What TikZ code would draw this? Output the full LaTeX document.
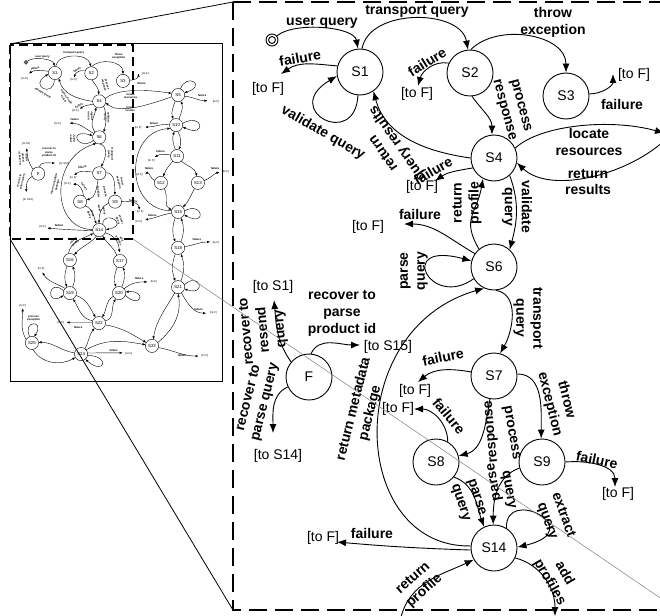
\documentclass[tikz,border=0pt]{standalone}
\usepackage{fontspec}
\setmainfont{Liberation Sans}
\usetikzlibrary{arrows.meta}
\def\LW{0.9pt}\def\AL{9pt}\def\AW{7pt}
\tikzset{
  st/.style={circle,draw,line width=\LW,minimum size=46pt,inner sep=0pt,font=\fontsize{14}{16}\selectfont},
  ini/.style={circle,draw,line width=\LW,inner sep=0pt},
  lbl/.style={font=\bfseries\fontsize{14}{17}\selectfont,align=center,inner sep=0pt},
  tof/.style={font=\fontsize{14}{16}\selectfont,inner sep=0pt},
  edg/.style={draw,line width=\LW,-{Latex[length=\AL,width=\AW]}},
}
\newcommand\mycore[1]{%
  \node[ini,minimum size=12pt] (#1init) at (272,40) {};
  \node[ini,minimum size=7pt] (#1initb) at (272,40) {};
  \node[st] (#1S1) at (360,72) {S1};
  \node[st] (#1S2) at (470,73) {S2};
  \node[st] (#1S3) at (566,96) {S3};
  \node[st] (#1S4) at (494,158) {S4};
  \node[st] (#1S6) at (494,267) {S6};
  \node[st] (#1S7) at (494,376) {S7};
  \node[st] (#1S8) at (436,462) {S8};
  \node[st] (#1S9) at (542,462) {S9};
  \node[st] (#1S14) at (494,548) {S14};
  \node[st] (#1F) at (309,377) {F};
  \coordinate (#1a1) at (281,74);
  \coordinate (#1a2) at (418,86);
  \coordinate (#1a3) at (613,74);
  \coordinate (#1a4) at (435,181);
  \coordinate (#1a6) at (404,224);
  \coordinate (#1a7) at (418,382);
  \coordinate (#1a8) at (414,409);
  \coordinate (#1a9) at (615,487);
  \coordinate (#1a14) at (337,542);
  \coordinate (#1aS1) at (274,300);
  \coordinate (#1aS15) at (360,345);
  \coordinate (#1aS14) at (273,433);
  \coordinate (#1aadd) at (555,616);
  \coordinate (#1arp) at (401,617);
  \node[tof] (#1t1) at (268,89) {[to F]};
  \node[tof] (#1t2) at (417,94) {[to F]};
  \node[tof] (#1t3) at (634,75) {[to F]};
  \node[tof] (#1t4) at (422,187) {[to F]};
  \node[tof] (#1t6) at (368,227) {[to F]};
  \node[tof] (#1t7) at (415,391) {[to F]};
  \node[tof] (#1t8) at (398,409) {[to F]};
  \node[tof] (#1t9) at (618,494) {[to F]};
  \node[tof] (#1t14) at (323,538) {[to F]};
  \node[tof] (#1tS1) at (273,287) {[to S1]};
  \node[tof] (#1tS15) at (388,347) {[to S15]};
  \node[tof] (#1tS14) at (278,456) {[to S14]};
  \node[lbl] (#1L1) at (322,23) {user query};
  \node[lbl] (#1L2) at (417,11) {transport query};
  \node[lbl,rotate=10] (#1L3) at (300,58) {failure};
  \node[lbl,rotate=-30] (#1L4) at (323,133) {validate query};
  \node[lbl,rotate=125] (#1L5) at (391,148) {return\\query results};
  \node[lbl,rotate=30] (#1L6) at (433,171) {failure};
  \node[lbl,rotate=32] (#1L7) at (427,62) {failure};
  \node[lbl] (#1L8) at (553,22) {throw\\exception};
  \node[lbl] (#1L9) at (622,104) {failure};
  \node[lbl,rotate=-75] (#1L10) at (512,108) {process\\response};
  \node[lbl] (#1L11) at (589,142) {locate\\resources};
  \node[lbl] (#1L12) at (588,182) {return\\results};
  \node[lbl,rotate=-90] (#1L13) at (517,207) {validate\\query};
  \node[lbl,rotate=90] (#1L14) at (467,203) {return\\profile};
  \node[lbl] (#1L15) at (420,214) {failure};
  \node[lbl,rotate=90] (#1L16) at (414,271) {parse\\query};
  \node[lbl,rotate=-90] (#1L17) at (528,318) {transport\\query};
  \node[lbl,rotate=76] (#1L18) at (362,411) {return metadata\\package};
  \node[lbl,rotate=12] (#1L19) at (443,357) {failure};
  \node[lbl,rotate=-50] (#1L20) at (449,416) {failure};
  \node[lbl,rotate=95] (#1L21a) at (492,432) {response};
  \node[lbl,rotate=-80] (#1L21b) at (511,433) {process};
  \node[lbl,rotate=-72] (#1L22) at (468,500) {parse\\query};
  \node[lbl,rotate=100] (#1L23a) at (495,482) {parse};
  \node[lbl,rotate=-80] (#1L23b) at (508,490) {query};
  \node[lbl,rotate=-76] (#1L24) at (558,402) {throw\\exception};
  \node[lbl,rotate=-12] (#1L25) at (597,460) {failure};
  \node[lbl,rotate=-70] (#1L26) at (555,518) {extract\\query};
  \node[lbl] (#1L27) at (372,533) {failure};
  \node[lbl,rotate=-60] (#1L28) at (557,578) {add\\profiles};
  \node[lbl,rotate=42] (#1L29) at (419,585) {return\\profile};
  \node[lbl,rotate=95] (#1L30) at (264,330) {recover to\\resend\\query};
  \node[lbl] (#1L31) at (342,313) {recover to\\parse\\product id};
  \node[lbl,rotate=76] (#1L32) at (257,400) {recover to\\parse query};
  \draw[edg] (#1init) to[out=40,in=100,looseness=0.7] (#1S1.95);
  \draw[edg] (#1S1.85) to[out=80,in=100] (#1S2.95);
  \draw[edg] (#1S1.165) to[out=175,in=35] (#1a1);
  \draw[edg] (#1S1.-95) .. controls (355,150) and (280,110) .. (#1S1.190);
  \draw[edg] (#1S4.180) to[out=172,in=-75] (#1S1.-55);
  \draw[edg] (#1S4.205) to[out=190,in=35] (#1a4);
  \draw[edg] (#1S2.155) to[out=170,in=75] (#1a2);
  \draw[edg] (#1S2.88) to[out=45,in=90] (#1S3.90);
  \draw[edg] (#1S3.5) to[out=0,in=-90] (#1a3);
  \draw[edg] (#1S2.-85) to[out=-55,in=90] (#1S4.95);
  \draw[edg] (#1S4.25) .. controls (540,125) and (610,118) .. (#1Xloc);
  \draw[edg] (#1Xret) .. controls (625,176) and (550,194) .. (#1S4.-12);
  \draw[edg] (#1S4.-48) to[out=-70,in=75] (#1S6.48);
  \draw[edg] (#1S6.130) to[out=120,in=-100,looseness=1.3] (#1S4.-118);
  \draw[edg] (#1S6.145) to[out=150,in=0] (#1a6);
  \draw[edg] (#1S6.210) .. controls (430,310) and (395,240) .. (#1S6.165);
  \draw[edg] (#1S6.-85) to[out=-10,in=60] (#1S7.75);
  \draw[edg] (#1S14.175) .. controls (350,548) and (340,330) .. (#1S6.-115);
  \draw[edg] (#1S7.170) to[out=170,in=40] (#1a7);
  \draw[edg] (#1S8.60) to[out=90,in=0] (#1a8);
  \draw[edg] (#1S7.-100) to[out=-100,in=15] (#1S8.15);
  \draw[edg] (#1S8.-40) to[out=-20,in=110] (#1S14.115);
  \draw[edg] (#1S9.195) to[out=200,in=90] (#1S14.92);
  \draw[edg] (#1S7.5) to[out=0,in=90] (#1S9.92);
  \draw[edg] (#1S9.0) to[out=5,in=90] (#1a9);
  \draw[edg] (#1S14.58) .. controls (505,485) and (590,530) .. (#1S14.2);
  \draw[edg] (#1S14.185) to[out=178,in=-5] (#1a14);
  \draw[edg] (#1S14.-25) to[out=-15,in=90] (#1aadd);
  \draw[edg] (#1arp) to[out=75,in=205] (#1S14.-150);
  \draw[edg] (#1F.140) to[out=125,in=-85] (#1aS1);
  \draw[edg] (#1F.85) to[out=65,in=180] (#1aS15);
  \draw[edg] (#1F.205) to[out=205,in=90] (#1aS14);
}
\newcommand\myxnodes{%
  \node[st] (tS5) at (733,139) {S5};
  \node[st] (tS10) at (727,230) {S10};
  \node[st] (tS11) at (730,324) {S11};
  \node[st] (tS12) at (681,405) {S12};
  \node[st] (tS13) at (793,405) {S13};
  \node[st] (tS15) at (733,493) {S15};
  \node[st] (tS16) at (405,639) {S16};
  \node[st] (tS17) at (557,642) {S17};
  \node[st] (tS18) at (733,602) {S18};
  \node[st] (tS19) at (405,739) {S19};
  \node[st] (tS20) at (554,739) {S20};
  \node[st] (tS21) at (733,721) {S21};
  \node[st] (tS22) at (493,830) {S22};
  \node[st] (tS23) at (654,899) {S23};
  \node[st] (tS24) at (439,924) {S24};
  \node[st] (tS25) at (290,890) {S25};
}
\newcommand\myxedges{%
  \draw[edg] (tS5.70) .. controls (760,70) and (820,110) .. (tS5.20);
  \coordinate (tf5) at (822,156);
  \draw[edg] (tS5.-10) to[out=-5,in=180] (tf5);
  \node[lbl] (tl5) at (806,140) {failure};
  \node[tof] (tt5) at (848,160) {[to F]};
  \draw[edg] (tS5.-115) to[out=-110,in=110] (tS10.115);
  \draw[edg] (tS10.65) to[out=70,in=-70] (tS5.-65);
  \draw[edg] (tS10.15) .. controls (810,190) and (820,270) .. (tS10.-15);
  \coordinate (tf10) at (633,236);
  \draw[edg] (tS10.175) to[out=175,in=0] (tf10);
  \node[lbl] (tl10) at (660,224) {failure};
  \node[tof] (tt10) at (612,238) {[to F]};
  \draw[edg] (tS10.-75) to[out=-60,in=70] (tS11.75);
  \draw[edg] (tS11.105) to[out=110,in=-110] (tS10.-105);
  \coordinate (tf11) at (662,327);
  \draw[edg] (tS11.170) to[out=170,in=30] (tf11);
  \node[lbl] (tl11) at (680,310) {failure};
  \node[tof] (tt11) at (652,338) {[to F]};
  \draw[edg] (tS11.-130) to[out=-130,in=70] (tS12.70);
  \draw[edg] (tS11.-50) to[out=-40,in=100] (tS13.100);
  \coordinate (tf12) at (633,377);
  \draw[edg] (tS12.160) to[out=160,in=20] (tf12);
  \node[lbl] (tl12) at (645,362) {failure};
  \node[tof] (tt12) at (616,380) {[to F]};
  \coordinate (tf13) at (858,372);
  \draw[edg] (tS13.20) to[out=20,in=200] (tf13);
  \node[lbl] (tl13) at (845,362) {failure};
  \node[tof] (tt13) at (878,372) {[to F]};
  \draw[edg] (tS12.-60) to[out=-60,in=160] (tS15.160);
  \draw[edg] (tS13.-120) to[out=-120,in=45] (tS15.45);
  \draw[edg] (tS15.170) .. controls (570,490) and (570,250) .. (tS10.-150);
  \draw[edg] (tS15.10) .. controls (810,460) and (820,540) .. (tS15.-25);
  \coordinate (tf15) at (633,517);
  \draw[edg] (tS15.190) to[out=190,in=10] (tf15);
  \node[lbl] (tl15) at (655,505) {failure};
  \node[tof] (tt15) at (614,523) {[to F]};
  \draw[edg] (tS15.-115) to[out=-110,in=110] (tS18.115);
  \draw[edg] (tS18.65) to[out=70,in=-70] (tS15.-65);
  \coordinate (tf18) at (830,584);
  \draw[edg] (tS18.10) to[out=10,in=180] (tf18);
  \node[lbl] (tl18) at (790,576) {failure};
  \node[tof] (tt18) at (848,586) {[to F]};
  \draw[edg] (tS18.-115) to[out=-110,in=110] (tS21.115);
  \draw[edg] (tS21.65) to[out=70,in=-70] (tS18.-65);
  \draw[edg] (tS21.20) .. controls (800,670) and (820,750) .. (tS21.-15);
  \coordinate (tf21) at (818,800);
  \draw[edg] (tS21.-60) to[out=-60,in=180] (tf21);
  \node[lbl] (tl21) at (795,790) {failure};
  \node[tof] (tt21) at (840,800) {[to F]};
  \draw[edg] (tS21.-120) to[out=-120,in=80] (tS23.80);
  \draw[edg] (tS23.30) to[out=40,in=-80] (tS21.-90);
  \draw[edg] (tS14.-115) to[out=-130,in=50] (tS16.50);
  \draw[edg] (tS17.120) to[out=110,in=-60] (tS14.-60);
  \draw[edg] (tS16.-115) to[out=-110,in=110] (tS19.115);
  \draw[edg] (tS19.65) to[out=70,in=-70] (tS16.-65);
  \draw[edg] (tS17.-115) to[out=-110,in=110] (tS20.115);
  \draw[edg] (tS20.65) to[out=70,in=-70] (tS17.-65);
  \draw[edg] (tS19.-20) to[out=-20,in=120] (tS22.120);
  \draw[edg] (tS22.160) to[out=170,in=-60] (tS19.-60);
  \draw[edg] (tS20.-150) to[out=-150,in=60] (tS22.60);
  \draw[edg] (tS22.20) to[out=10,in=-120] (tS20.-120);
  \draw[edg] (tS19.160) .. controls (340,690) and (330,780) .. (tS19.-160);
  \coordinate (tf19) at (322,676);
  \draw[edg] (tS19.135) to[out=150,in=-60] (tf19);
  \node[tof] (tt19) at (318,666) {[to F]};
  \draw[edg] (tS20.-20) .. controls (620,790) and (640,730) .. (tS20.10);
  \coordinate (tf20) at (640,705);
  \draw[edg] (tS20.40) to[out=40,in=180] (tf20);
  \node[lbl] (tl20) at (615,695) {failure};
  \node[tof] (tt20) at (660,704) {[to F]};
  \coordinate (tf22) at (395,828);
  \draw[edg] (tS22.175) to[out=180,in=0] (tf22);
  \node[lbl] (tl22) at (430,842) {failure};
  \node[tof] (tt22) at (378,828) {[to F]};
  \draw[edg] (tS22.-15) to[out=-10,in=150] (tS23.150);
  \draw[edg] (tS24.55) to[out=60,in=-130] (tS22.-130);
  \draw[edg] (tS24.40) to[out=30,in=170] (tS23.170);
  \draw[edg] (tS24.170) to[out=170,in=0] (tS25.5);
  \draw[edg] (tS25.-80) to[out=-60,in=-150] (tS24.-150);
  \draw[edg] (tS25.110) .. controls (260,820) and (330,820) .. (tS25.70);
  \node[lbl] (tl25) at (295,816) {process\\exception};
  \coordinate (tf25) at (262,785);
  \draw[edg] (tS25.150) to[out=120,in=-90] (tf25);
  \node[tof] (tt25) at (262,776) {[to F]};
  \draw[edg] (tS24.-10) .. controls (530,930) and (510,990) .. (tS24.-50);
  \coordinate (tf24) at (565,920);
  \draw[edg] (tS24.10) to[out=0,in=180] (tf24);
  \node[lbl] (tl24) at (538,912) {failure};
  \node[tof] (tt24) at (584,922) {[to F]};
  \coordinate (tf23) at (795,930);
  \draw[edg] (tS23.-15) to[out=-10,in=180] (tf23);
  \node[lbl] (tl23) at (745,927) {failure};
  \node[tof] (tt23) at (814,930) {[to F]};
}
\begin{document}
\begin{tikzpicture}[x=1pt,y=-1pt]
  \useasboundingbox (0,0) rectangle (660,615);
  \fill[white] (0,0) rectangle (660,615);
  % big panel
  \begin{scope}
    \clip (233,0) rectangle (660,615);
    \coordinate (Xloc) at (664,133);
    \coordinate (Xret) at (664,141);
    \mycore{}
  \end{scope}
  \draw[line width=2.6pt,dash pattern=on 18pt off 8pt] (233,2) rectangle (700,610);
  % thumbnail
  \begin{scope}[shift={(-63.8,49.2)},scale=0.33,transform shape]
    \def\LW{0.4pt}\def\AL{3pt}\def\AW{2.4pt}
    \tikzset{
      st/.style={circle,draw,line width=\LW,minimum size=40pt,inner sep=0pt,font=\fontsize{13}{15}\selectfont},
      lbl/.style={font=\bfseries\fontsize{8.5}{10}\selectfont,align=center,inner sep=0pt},
      tof/.style={font=\fontsize{8.5}{10}\selectfont,inner sep=0pt},
    }
    \myxnodes
    \coordinate (tXloc) at (tS5.165);
    \coordinate (tXret) at (tS5.-165);
    \mycore{t}
    \myxedges
  \end{scope}
  \draw[line width=1pt] (10,44) rectangle (222,381);
  \draw[line width=1.8pt,dash pattern=on 9pt off 5pt] (10,45) rectangle (133,239);
  % zoom lines
  \coordinate (zA) at (10,44);
  \coordinate (zB) at (233,2);
  \coordinate (zC) at (10,239);
  \coordinate (zD) at (233,610);
  \coordinate (zE) at (133,239);
  \coordinate (zF) at (678,610);
  \draw[line width=0.8pt] (zA) -- (zB);
  \draw[line width=0.8pt] (zC) -- (zD);
  \draw[gray,line width=0.5pt] (zE) -- (zF);
\end{tikzpicture}
\end{document}
